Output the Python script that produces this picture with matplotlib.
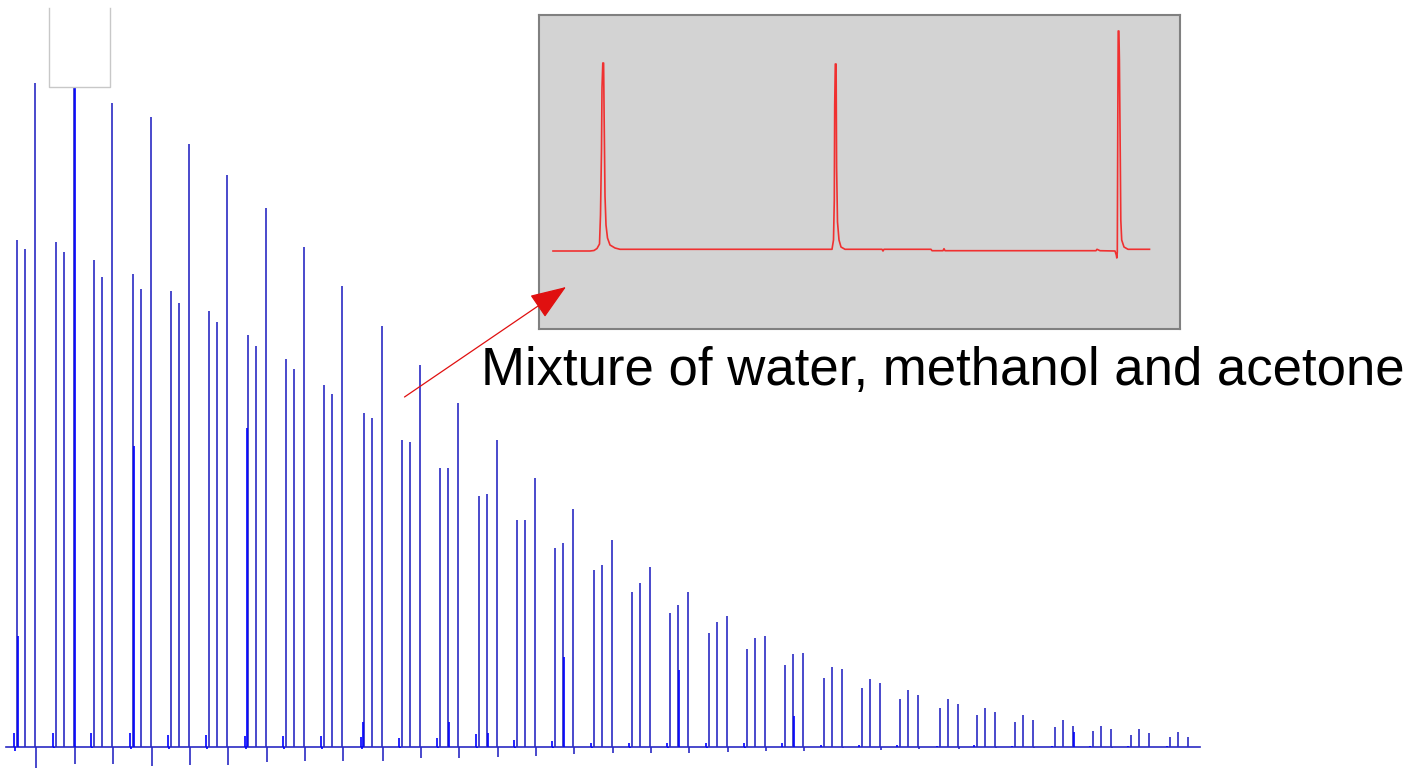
import matplotlib
matplotlib.use("Agg")
import matplotlib.pyplot as plt
from matplotlib.patches import Rectangle
import numpy as np

# ---- repeated injections: retention time of the water peak in each run (min)
water_t = [0.50, 2.45, 4.35, 6.30, 8.20, 10.10, 12.05, 13.95, 15.85, 17.85,
           19.75, 21.65, 23.60, 25.50, 27.40, 29.35, 31.25, 33.15, 35.10, 37.00,
           38.90, 40.85, 42.75, 44.65, 46.65, 48.50, 50.40, 52.40, 54.30, 56.20,
           58.15]
methanol_offset = 0.41   # min after the water peak
acetone_offset = 0.905   # min after the water peak
inject_offset = -0.15    # injection disturbance before the water peak

# peak heights (mV)
water_h = [101.3, 100.9, 97.3, 94.5, 91.1, 87.1, 82.3, 77.5, 72.3, 66.7,
           61.3, 55.7, 50.1, 45.3, 39.7, 35.3, 30.9, 26.7, 22.7, 19.5,
           16.3, 13.7, 11.7, 9.5, 7.7, 6.3, 4.9, 3.9, 3.1, 2.3, 1.9]
methanol_h = [99.5, 98.9, 93.9, 91.5, 88.7, 84.9, 80.1, 75.5, 70.5, 65.7,
              60.9, 55.7, 50.5, 45.3, 40.7, 36.3, 32.7, 28.3, 24.9, 21.7,
              18.5, 15.9, 13.5, 11.3, 9.5, 7.7, 6.3, 5.3, 4.1, 3.5, 2.9]
acetone_h = [132.7, 134.0, 128.7, 125.9, 120.5, 114.3, 107.7, 99.9, 92.1, 84.1,
             76.3, 68.7, 61.3, 53.7, 47.5, 41.3, 35.9, 30.9, 26.1, 22.1,
             18.7, 15.5, 12.7, 10.3, 8.5, 6.9, 5.3, 4.1, 3.5, 2.7, 1.9]
# negative undershoot right after the acetone peak (mV)
acetone_dip = [4.3, 3.5, 3.5, 3.9, 3.7, 3.7, 3.1, 2.9, 2.9, 2.9,
               2.3, 2.3, 2.1, 1.9, 1.5, 1.3, 1.3, 1.3, 1.1, 0.9,
               0.9, 0.3, 0.7, 0.5, 0.5, 0.3, 0.3, 0.1, 0.3, 0.1, 0.1]
# injection disturbance height (mV)
inject_h = [2.7, 2.7, 2.7, 2.7, 2.3, 2.3, 2.1, 2.1, 2.1, 1.9,
            1.7, 1.7, 2.6, 1.3, 1.1, 0.7, 0.7, 0.7, 0.7, 0.7,
            0.7, 0.3, 0.3, 0.3, 0.2, 0.3, 0.2, 0.2, 0.2, 0.2, 0.2]
inject_dip = [0.9, 0.3, 0.3, 0.5, 0.5, 0.5, 0.4, 0.4, 0.4, 0.4,
              0.3, 0.3, 0.3, 0.3, 0.2, 0.2, 0.2, 0.2, 0.2, 0.2,
              0.1, 0.1, 0.1, 0.1, 0.1, 0.1, 0.1, 0.1, 0.1, 0.1, 0.1]
# unresolved shoulders that widen some peaks (time in min, height in mV)
shoulder_t = [0.55, 3.39, 6.35, 12.00, 17.80, 22.08, 24.03, 27.83, 33.58, 39.33, 53.33]
shoulder_h = [22.1, 134.0, 60.1, 63.7, 4.9, 4.9, 2.7, 17.9, 15.3, 6.1, 2.9]
run_start, run_end = -0.05, 59.65

# ---- single injection, expanded (time in s, signal in mV)
detail_t = [0.0, 11.1, 12.3, 13.2, 13.95, 14.25, 14.55, 14.7, 14.94, 15.18,
            15.36, 15.6, 15.9, 16.35, 17.1, 18.6, 20.1, 83.7, 84.15, 84.39,
            84.51, 84.69, 84.93, 85.08, 85.35, 85.8, 86.4, 87.6, 98.7, 99.0,
            99.3, 113.4, 113.7, 117.0, 117.3, 117.6, 162.9, 163.2, 164.1, 168.6,
            168.99, 169.14, 169.29, 169.44, 169.56, 169.77, 169.92, 170.19, 170.34, 170.61,
            171.3, 172.5, 178.95]
detail_y = [-0.05, -0.05, 0.0, 0.2, 0.65, 3.55, 10.05, 16.25, 18.75, 18.75,
            12.75, 5.45, 2.55, 1.25, 0.55, 0.25, 0.12, 0.12, 1.05, 5.05,
            14.55, 18.65, 18.65, 8.35, 2.85, 1.05, 0.35, 0.12, 0.12, -0.05,
            0.12, 0.12, -0.02, -0.02, 0.18, -0.02, -0.02, 0.12, -0.02, -0.05,
            -0.45, -0.75, -0.15, 13.05, 21.95, 21.95, 19.05, 9.05, 3.05, 1.05,
            0.35, 0.12, 0.12]

caption = "Mixture of water, methanol and acetone"

# ---------------------------------------------------------------------------
W, H, DPI = 1407, 770, 100
fig = plt.figure(figsize=(W / DPI, H / DPI), dpi=DPI)
fig.patch.set_facecolor("white")

# expanded view of one injection
ins = fig.add_axes([539 / W, 1 - 329 / H, 641 / W, 314 / H])
ins.set_zorder(1)
ins.set_facecolor("#d3d3d3")
ins.plot(detail_t, detail_y, color="#f03030", lw=1.2)
ins.set_xlim(-4.2, 188.1)
ins.set_ylim(-7.85, 23.55)
ins.set_xticks([])
ins.set_yticks([])
for s in ins.spines.values():
    s.set_color("#808080")
    s.set_linewidth(1.5)

# full run (drawn above the inset so the pointer stays visible)
ax = fig.add_axes([0, 0, 1, 1])
ax.set_zorder(2)
ax.set_xlim(-0.35, 70.0)
ax.set_ylim(-4.7, 149.3)
ax.axis("off")

blue = "#2a2ac4"
lw = 1.2
wt = np.array(water_t)
mt = wt + methanol_offset
at = wt + acetone_offset
it = wt + inject_offset

ax.plot([run_start, run_end], [0, 0], color=blue, lw=lw, zorder=2)
ax.vlines(wt, 0, water_h, color=blue, lw=lw, zorder=3)
ax.vlines(mt, 0, methanol_h, color=blue, lw=lw, zorder=3)
ax.vlines(at, 0, acetone_h, color=blue, lw=lw, zorder=3)
ax.vlines(at + 0.03, -np.array(acetone_dip), 0, color=blue, lw=lw, zorder=3)
ax.vlines(it, 0, inject_h, color="#0000ff", lw=lw, zorder=3)
ax.vlines(it + 0.07, -np.array(inject_dip), 0, color="#0000ff", lw=lw, zorder=3)
ax.vlines(shoulder_t, 0, shoulder_h, color="#0000ff", lw=lw, zorder=3)

# empty white frame in the upper left corner
ax.add_patch(Rectangle((0.0348, 0.887), 0.0434, 0.12, transform=ax.transAxes,
                       facecolor="white", edgecolor="none", zorder=6))
ax.plot([0.0348, 0.0348, 0.0782, 0.0782], [0.990, 0.887, 0.887, 0.990],
        transform=ax.transAxes, color="#c8c8c8", lw=1.0, zorder=7)

ax.annotate("", xy=(0.0421, 0.1338), xycoords=ins.transAxes,
            xytext=(19.875, 69.9), textcoords="data",
            arrowprops=dict(arrowstyle="-|>,head_length=0.4,head_width=0.15",
                            mutation_scale=57, color="#e01010", lw=0.9,
                            shrinkA=0, shrinkB=0),
            zorder=8)

fig.text(481 / W, 1 - 385 / H, caption, family="Liberation Sans",
         fontsize=38, color="black", ha="left", va="baseline", zorder=10)

fig.savefig("out.png", dpi=DPI, facecolor="white")
